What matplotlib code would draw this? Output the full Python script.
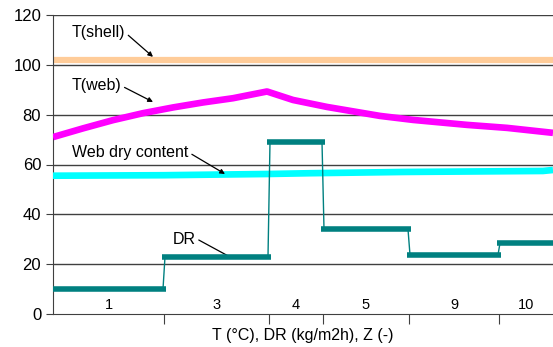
import numpy as np
import matplotlib.pyplot as plt

plt.rcParams['font.family'] = ['Liberation Sans', 'DejaVu Sans']

# segment boundaries along the machine (arbitrary position units) and zone labels
bounds = [0, 111, 216, 270, 356, 446, 500]
zones = ['1', '3', '4', '5', '9', '10']

# drying rate per zone (kg/m2h)
dr = [10, 23, 69, 34, 23.7, 28.5]

# shell temperature
shell_x = [0, 500]
shell_t = [102, 102]

# web temperature
web_x = [0, 30, 60, 90, 120, 150, 180, 214, 240, 274, 327, 360, 414, 454, 500]
web_t = [71, 74.5, 77.8, 80.6, 82.9, 84.9, 86.6, 89.3, 85.9, 83.1, 79.5, 77.9, 75.9, 74.7, 72.7]

# web dry content
dc_x = [0, 111, 216, 257, 350, 490, 500]
dc_v = [55.5, 55.7, 56.2, 56.5, 57.0, 57.4, 57.8]

fig = plt.figure(figsize=(5.53, 3.47), dpi=100)
ax = fig.add_axes([53/553, 33/347, 500/553, 299/347])

for y in range(20, 121, 20):
    ax.axhline(y, color='#404040', lw=1, zorder=0)

ax.plot(shell_x, shell_t, color='#FFCC99', lw=4.5, solid_capstyle='butt', zorder=2)
ax.plot(web_x, web_t, color='#FF00FF', lw=4.8, solid_capstyle='butt', zorder=3)
ax.plot(dc_x, dc_v, color='#00FFFF', lw=4.8, solid_capstyle='butt', zorder=3)

# DR: thin connecting line + thick horizontal bars
px, py = [], []
for i, v in enumerate(dr):
    px += [bounds[i] + 1, bounds[i + 1] - 1]
    py += [v, v]
ax.plot(px, py, color='#008080', lw=1, zorder=4)
ax.hlines(dr, [b - 2 for b in bounds[:-1]], [b + 2 for b in bounds[1:]],
          color='#008080', lw=4, zorder=4)

# zone labels
for i, z in enumerate(zones):
    ax.text((bounds[i] + bounds[i + 1]) / 2, 3.8, z, ha='center', va='center', fontsize=10.5)

# annotations
arr = dict(arrowstyle='-|>', color='black', lw=0.9, mutation_scale=7, shrinkA=0, shrinkB=0)
ax.annotate('T(shell)', xy=(100, 103.2), xytext=(19, 112.8), fontsize=11.5,
            va='center', arrowprops=dict(arr, relpos=(1.05, 0.35)))
ax.annotate('T(web)', xy=(100, 85.1), xytext=(19, 91.9), fontsize=11.5,
            va='center', arrowprops=dict(arr, relpos=(1.05, 0.35)))
ax.annotate('Web dry content', xy=(172, 56.2), xytext=(19, 65), fontsize=11.5,
            va='center', arrowprops=dict(arr, relpos=(1.03, 0.35)))
ax.annotate('DR', xy=(177, 22.9), xytext=(120, 30.1), fontsize=11.5,
            va='center', arrowprops=dict(arrowstyle='-', color='black', lw=0.9,
                                         shrinkA=0, shrinkB=0, relpos=(1.1, 0.45)))

ax.set_xlim(0, 500)
ax.set_ylim(0, 120)
ax.set_yticks(range(0, 121, 20))
ax.set_xticks(bounds[1:-1])
ax.set_xticklabels([])
ax.tick_params(axis='x', direction='out', length=7, color='#404040', pad=0)
ax.tick_params(axis='y', direction='out', length=5, labelsize=12, color='#404040')
for s in ['top', 'right']:
    ax.spines[s].set_visible(False)
ax.spines['left'].set_color('#404040')
ax.spines['bottom'].set_color('#404040')
ax.set_xlabel('T (°C), DR (kg/m2h), Z (-)', fontsize=11.5, labelpad=3)

fig.savefig('out.png', dpi=100)
plt.close()
